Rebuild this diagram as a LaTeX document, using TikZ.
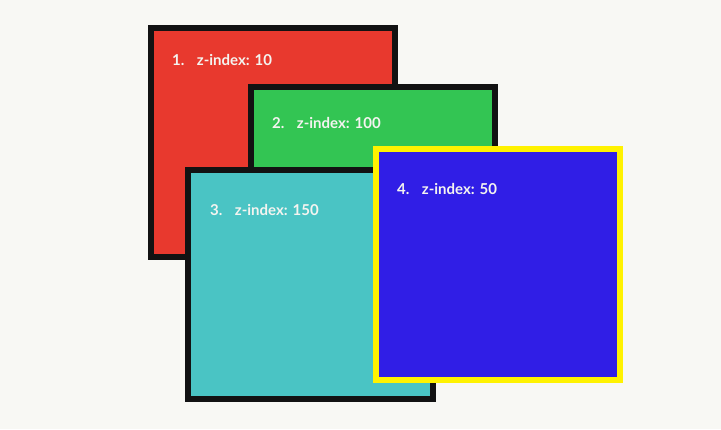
\documentclass[tikz,border=0pt]{standalone}
\usepackage{fontspec}
\setmainfont{Lato}
\definecolor{bgc}{HTML}{F8F8F4}
\definecolor{edgec}{HTML}{121212}
\definecolor{redc}{HTML}{E8392E}
\definecolor{greenc}{HTML}{33C553}
\definecolor{cyanc}{HTML}{4AC4C4}
\definecolor{bluec}{HTML}{301EE6}
\definecolor{yellowc}{HTML}{FFF200}
\definecolor{txtc}{HTML}{F4F4F0}
\tikzset{
  panel/.style={rectangle, draw=edgec, line width=6pt, inner sep=0pt, outer sep=0pt,
    minimum width=244pt, minimum height=229pt},
  lbl/.style={anchor=base west, inner sep=0pt, text=txtc,
    font=\fontsize{15}{17}\selectfont\bfseries}
}
\begin{document}
\begin{tikzpicture}[x=1pt,y=1pt]
\fill[bgc] (0,0) rectangle (721,429);
\useasboundingbox (0,0) rectangle (721,429);
\node[panel, fill=redc] (red) at (273,286.5) {};
\node[panel, fill=greenc] (green) at (373,227) {};
\node[panel, fill=cyanc, minimum width=245pt] (cyan) at (310.5,144.5) {};
\node[panel, fill=bluec, draw=yellowc, minimum height=231pt] (blue) at (498,164.5) {};
\node[lbl] (t1) at (172,363.3) {1.\hspace{12.5pt}z-index: 10};
\node[lbl] (t2) at (272,300) {2.\hspace{12.5pt}z-index: 100};
\node[lbl] (t3) at (210,213.3) {3.\hspace{12.5pt}z-index: 150};
\node[lbl] (t4) at (397,234) {4.\hspace{12.5pt}z-index: 50};
\end{tikzpicture}
\end{document}
